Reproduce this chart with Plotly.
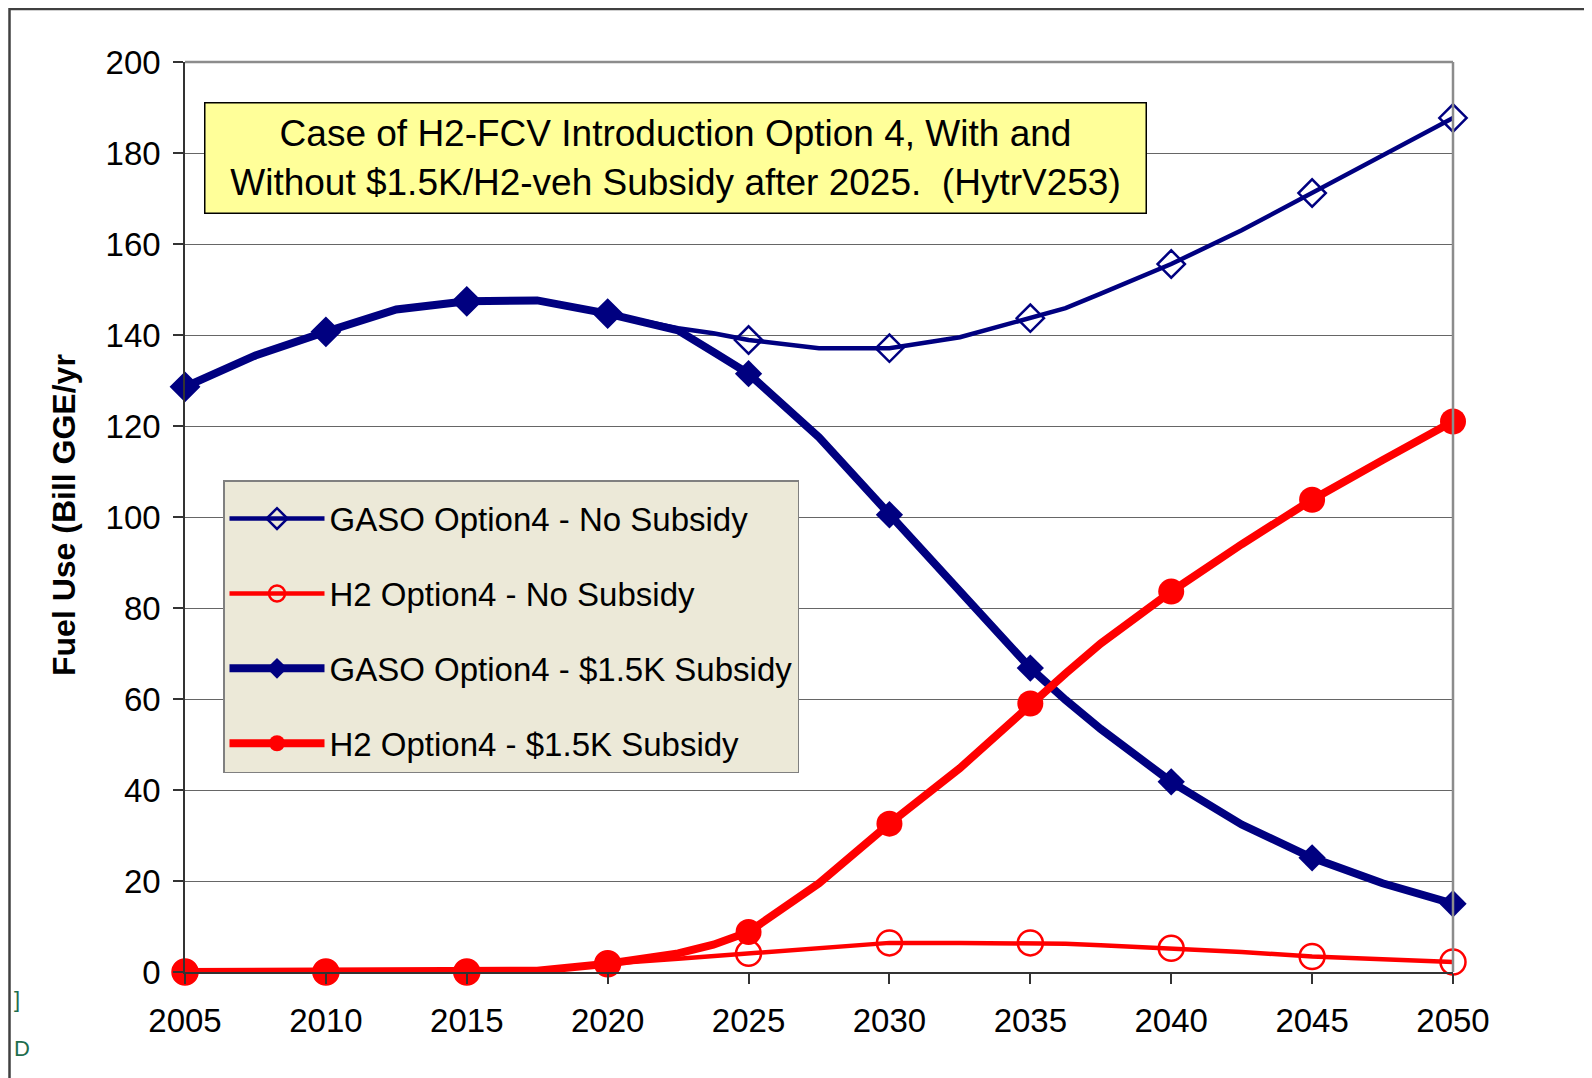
import plotly.graph_objects as go

# ---------------- data ----------------
years = [2005, 2007.5, 2010, 2012.5, 2015, 2017.5, 2020, 2022.5, 2023.75, 2025,
         2027.5, 2030, 2032.5, 2035, 2036.25, 2037.5, 2040, 2042.5, 2045, 2047.5, 2050]

gaso_no_subsidy = [128.6, 135.5, 140.7, 145.6, 147.4, 147.6, 144.7, 141.5, 140.4, 138.9,
                   137.1, 137.1, 139.5, 143.7, 145.9, 149.1, 155.6, 163.0, 171.2, 179.5, 187.7]
h2_no_subsidy = [0.0, 0.0, 0.0, 0.0, 0.0, 0.3, 1.8, 2.9, 3.5, 4.1,
                 5.2, 6.4, 6.4, 6.4, 6.2, 5.9, 5.2, 4.4, 3.4, 2.8, 2.2]
gaso_subsidy = [128.6, 135.5, 140.7, 145.6, 147.4, 147.6, 144.7, 141.0, 136.3, 131.5,
                117.5, 100.5, 83.3, 66.8, 59.8, 53.4, 41.8, 32.4, 25.1, 19.5, 15.0]
h2_subsidy = [0.0, 0.0, 0.0, 0.0, 0.0, 0.3, 1.8, 4.1, 6.0, 8.8,
              19.5, 32.6, 44.8, 59.0, 65.6, 72.2, 83.6, 94.0, 103.8, 112.5, 121.0]

series_names = ["GASO Option4 - No Subsidy", "H2 Option4 - No Subsidy",
                "GASO Option4 - $1.5K Subsidy", "H2 Option4 - $1.5K Subsidy"]
x_ticks = [2005, 2010, 2015, 2020, 2025, 2030, 2035, 2040, 2045, 2050]
y_ticks = [0, 20, 40, 60, 80, 100, 120, 140, 160, 180, 200]
title_lines = ["Case of H2-FCV Introduction Option 4, With and",
               "Without $1.5K/H2-veh Subsidy after 2025.  (HytrV253)"]
y_title = "Fuel Use (Bill GGE/yr"

# ---------------- styling ----------------
NAVY = "#000080"
RED = "#FF0000"
FONT = "Liberation Sans, Arial, sans-serif"

styles = [
    dict(color=NAVY, lw=4.5, symbol="diamond-open", size=21, mlw=2.5),
    dict(color=RED, lw=4.5, symbol="circle-open", size=25, mlw=2.5),
    dict(color=NAVY, lw=8, symbol="diamond", size=21, mlw=0),
    dict(color=RED, lw=8, symbol="circle", size=26, mlw=0),
]
values = [gaso_no_subsidy, h2_no_subsidy, gaso_subsidy, h2_subsidy]

fig = go.Figure()

for name, vals, st in zip(series_names, values, styles):
    # continuous line through every data point
    fig.add_trace(go.Scatter(x=years, y=vals, mode="lines",
                             line=dict(color=st["color"], width=st["lw"]),
                             showlegend=False, hoverinfo="skip"))
    # markers only on the 5-year points
    mx = [x for x in years if x in x_ticks]
    my = [v for x, v in zip(years, vals) if x in x_ticks]
    fig.add_trace(go.Scatter(x=mx, y=my, mode="markers", cliponaxis=False,
                             marker=dict(color=st["color"], symbol=st["symbol"], size=st["size"],
                                         line=dict(color=st["color"], width=st["mlw"])),
                             showlegend=False, name=name))

# legend entries
for i, (name, st) in enumerate(zip(series_names, styles)):
    fig.add_trace(go.Scatter(x=[None], y=[None], mode="lines+markers", name=name,
                             legendgroup=f"g{i}",
                             line=dict(color=st["color"], width=st["lw"]),
                             marker=dict(color=st["color"], symbol=st["symbol"], size=st["size"],
                                         line=dict(color=st["color"], width=st["mlw"]))))

# The page body adds an 8px offset; all positions below are page pixels.
OFF = 8
W, H = 1592, 1078
PL, PR, PT, PB = 185 - OFF, 1453 - OFF, 62 - OFF, 972 - OFF   # plot area in figure px

def px_x(p):
    return (p - OFF - PL) / (PR - PL)

def px_y(p):
    return (PB - (p - OFF)) / (PB - PT)

fig.update_layout(
    width=W, height=H,
    margin=dict(l=PL, r=W - PR, t=PT, b=H - PB),
    paper_bgcolor="white", plot_bgcolor="white",
    font=dict(family=FONT, color="black"),
    legend=dict(x=px_x(223), y=px_y(480), xanchor="left", yanchor="top",
                bgcolor="#ECE9D8", bordercolor="#808080", borderwidth=1.5,
                font=dict(size=33, family=FONT, color="black"),
                title=dict(text="\u00a0", font=dict(size=7, family=FONT)),
                tracegroupgap=29, traceorder="grouped", itemwidth=95),
    xaxis=dict(range=[2005, 2050], tickvals=x_ticks, ticktext=[str(t) for t in x_ticks],
               showgrid=False, zeroline=False, showline=True, linecolor="#333333", linewidth=1.5,
               ticks="outside", ticklen=10, tickwidth=1.5, tickcolor="#333333",
               tickfont=dict(size=33, family=FONT, color="black"), ticklabelstandoff=9),
    yaxis=dict(range=[0, 200], tickvals=y_ticks,
               showgrid=True, gridcolor="#666666", gridwidth=1, zeroline=False,
               showline=True, linecolor="#333333", linewidth=1.5,
               ticks="outside", ticklen=10, tickwidth=1.5, tickcolor="#333333",
               tickfont=dict(size=33, family=FONT, color="black"), ticklabelstandoff=6),
    shapes=[
        # plot-area border (top and right, gray)
        dict(type="line", xref="paper", yref="paper", x0=0, x1=1, y0=1, y1=1,
             line=dict(color="#8C8C8C", width=2.5)),
        dict(type="line", xref="paper", yref="paper", x0=1, x1=1, y0=0, y1=1,
             line=dict(color="#8C8C8C", width=2.5)),
        # outer chart frame (left and top edges visible)
        dict(type="line", xref="paper", yref="paper", x0=px_x(9), x1=px_x(1610),
             y0=px_y(9), y1=px_y(9), line=dict(color="#404040", width=2.5)),
        dict(type="line", xref="paper", yref="paper", x0=px_x(9.5), x1=px_x(9.5),
             y0=px_y(8), y1=px_y(1100), line=dict(color="#404040", width=2.5)),
    ],
    annotations=[
        dict(xref="paper", yref="paper", x=px_x(675), y=px_y(158), xanchor="center", yanchor="middle",
             text="<br>".join(title_lines), showarrow=False, align="center",
             font=dict(size=37, family=FONT, color="black"),
             bgcolor="#FFFF99", bordercolor="black", borderwidth=1.5,
             width=922, height=91, borderpad=9),
        dict(xref="paper", yref="paper", x=px_x(64), y=px_y(515), xanchor="center", yanchor="middle",
             text="<b>" + y_title + "</b>", showarrow=False, textangle=-90,
             font=dict(size=32, family=FONT, color="black")),
        dict(xref="paper", yref="paper", x=px_x(12), y=px_y(1000), xanchor="left", yanchor="middle",
             text="]", showarrow=False, font=dict(size=22, family=FONT, color="#1F6E4E")),
        dict(xref="paper", yref="paper", x=px_x(12), y=px_y(1048), xanchor="left", yanchor="middle",
             text="D", showarrow=False, font=dict(size=22, family=FONT, color="#1F6E4E")),
    ],
)

fig.write_html("out.html")
